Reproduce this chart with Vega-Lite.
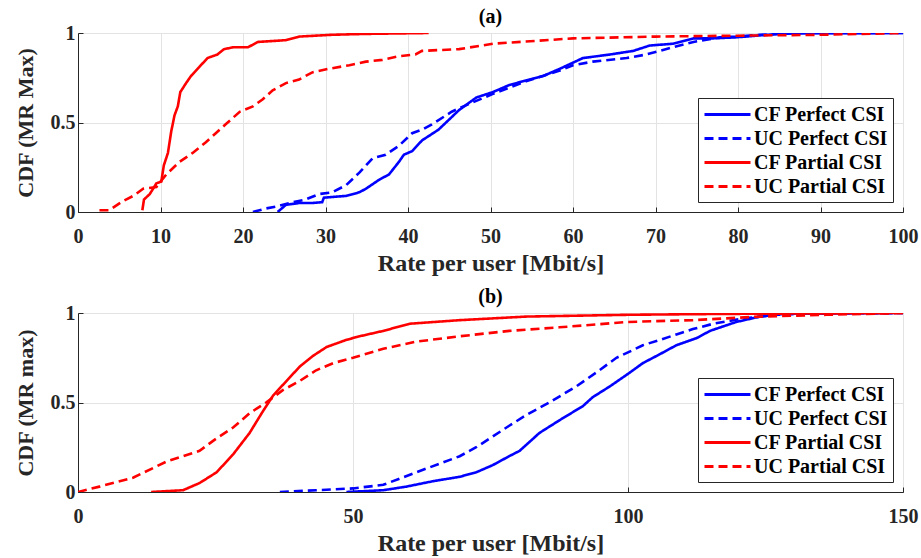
{
  "$schema": "https://vega.github.io/schema/vega-lite/v6.json",
  "padding": {"left": 13, "top": 6, "right": 0, "bottom": 2},
  "background": "white",
  "config": {
    "font": "Times New Roman, Liberation Serif, serif",
    "view": {"stroke": "#262626", "strokeWidth": 1},
    "axis": {
      "labelFont": "Times New Roman, Liberation Serif, serif", "labelFontWeight": "bold", "labelFontSize": 20, "labelColor": "#262626",
      "titleFont": "Times New Roman, Liberation Serif, serif", "titleFontWeight": "bold", "titleFontSize": 22, "titleColor": "#262626",
      "gridColor": "#e3e3e3", "gridWidth": 1, "domainColor": "#262626", "tickColor": "#262626",
      "tickSize": -5
    },
    "axisX": {"labelPadding": 19, "titlePadding": 5, "titleFontSize": 24, "labelFlush": false},
    "axisY": {"labelPadding": 8, "titlePadding": 13},
    "title": {"font": "Times New Roman, Liberation Serif, serif", "fontWeight": "bold", "fontSize": 20, "color": "#000000", "offset": -4},
    "legend": {
      "labelFont": "Times New Roman, Liberation Serif, serif", "labelFontWeight": "bold", "labelFontSize": 20, "labelColor": "#000000",
      "symbolType": "M-1,0H3.6", "symbolSize": 400, "symbolStrokeWidth": 3, "rowPadding": 2,
      "fillColor": "white", "strokeColor": "#262626", "padding": 5, "labelOffset": 28
    }
  },
  "datasets": {
    "a": [
      {"s": "CF Perfect CSI", "x": 24.2, "y": 0.0},
      {"s": "CF Perfect CSI", "x": 25.2, "y": 0.04},
      {"s": "CF Perfect CSI", "x": 26.8, "y": 0.05},
      {"s": "CF Perfect CSI", "x": 28.4, "y": 0.05},
      {"s": "CF Perfect CSI", "x": 29.6, "y": 0.055},
      {"s": "CF Perfect CSI", "x": 29.8, "y": 0.08},
      {"s": "CF Perfect CSI", "x": 32.5, "y": 0.09},
      {"s": "CF Perfect CSI", "x": 34.1, "y": 0.11},
      {"s": "CF Perfect CSI", "x": 34.9, "y": 0.13},
      {"s": "CF Perfect CSI", "x": 36.5, "y": 0.18},
      {"s": "CF Perfect CSI", "x": 37.7, "y": 0.21},
      {"s": "CF Perfect CSI", "x": 38.9, "y": 0.28},
      {"s": "CF Perfect CSI", "x": 39.5, "y": 0.32},
      {"s": "CF Perfect CSI", "x": 40.5, "y": 0.34},
      {"s": "CF Perfect CSI", "x": 41.7, "y": 0.40},
      {"s": "CF Perfect CSI", "x": 43.7, "y": 0.46},
      {"s": "CF Perfect CSI", "x": 46.2, "y": 0.57},
      {"s": "CF Perfect CSI", "x": 48.3, "y": 0.64},
      {"s": "CF Perfect CSI", "x": 50.3, "y": 0.67},
      {"s": "CF Perfect CSI", "x": 52.3, "y": 0.71},
      {"s": "CF Perfect CSI", "x": 56.4, "y": 0.76},
      {"s": "CF Perfect CSI", "x": 58.4, "y": 0.80},
      {"s": "CF Perfect CSI", "x": 61.2, "y": 0.86},
      {"s": "CF Perfect CSI", "x": 64.5, "y": 0.88},
      {"s": "CF Perfect CSI", "x": 67.3, "y": 0.90},
      {"s": "CF Perfect CSI", "x": 69.3, "y": 0.93},
      {"s": "CF Perfect CSI", "x": 72.1, "y": 0.94},
      {"s": "CF Perfect CSI", "x": 74.6, "y": 0.97},
      {"s": "CF Perfect CSI", "x": 77.0, "y": 0.97},
      {"s": "CF Perfect CSI", "x": 79.8, "y": 0.976},
      {"s": "CF Perfect CSI", "x": 84.7, "y": 0.994},
      {"s": "CF Perfect CSI", "x": 86.7, "y": 1.0},
      {"s": "CF Perfect CSI", "x": 100, "y": 1.0},
      {"s": "UC Perfect CSI", "x": 21.2, "y": 0.0},
      {"s": "UC Perfect CSI", "x": 22.8, "y": 0.02},
      {"s": "UC Perfect CSI", "x": 24.0, "y": 0.03},
      {"s": "UC Perfect CSI", "x": 25.6, "y": 0.05},
      {"s": "UC Perfect CSI", "x": 27.6, "y": 0.07},
      {"s": "UC Perfect CSI", "x": 29.2, "y": 0.10},
      {"s": "UC Perfect CSI", "x": 30.8, "y": 0.11},
      {"s": "UC Perfect CSI", "x": 32.5, "y": 0.15},
      {"s": "UC Perfect CSI", "x": 34.1, "y": 0.22},
      {"s": "UC Perfect CSI", "x": 35.7, "y": 0.30},
      {"s": "UC Perfect CSI", "x": 37.3, "y": 0.32},
      {"s": "UC Perfect CSI", "x": 38.9, "y": 0.37},
      {"s": "UC Perfect CSI", "x": 40.5, "y": 0.44},
      {"s": "UC Perfect CSI", "x": 41.7, "y": 0.46},
      {"s": "UC Perfect CSI", "x": 42.9, "y": 0.49},
      {"s": "UC Perfect CSI", "x": 45.3, "y": 0.56},
      {"s": "UC Perfect CSI", "x": 46.2, "y": 0.58},
      {"s": "UC Perfect CSI", "x": 50.3, "y": 0.66},
      {"s": "UC Perfect CSI", "x": 54.3, "y": 0.73},
      {"s": "UC Perfect CSI", "x": 58.4, "y": 0.79},
      {"s": "UC Perfect CSI", "x": 60.0, "y": 0.82},
      {"s": "UC Perfect CSI", "x": 62.4, "y": 0.84},
      {"s": "UC Perfect CSI", "x": 66.5, "y": 0.86},
      {"s": "UC Perfect CSI", "x": 68.9, "y": 0.88},
      {"s": "UC Perfect CSI", "x": 72.1, "y": 0.92},
      {"s": "UC Perfect CSI", "x": 74.6, "y": 0.95},
      {"s": "UC Perfect CSI", "x": 77.8, "y": 0.976},
      {"s": "UC Perfect CSI", "x": 80.0, "y": 0.98},
      {"s": "UC Perfect CSI", "x": 82.6, "y": 0.99},
      {"s": "UC Perfect CSI", "x": 86.7, "y": 0.998},
      {"s": "UC Perfect CSI", "x": 100, "y": 1.0},
      {"s": "CF Partial CSI", "x": 7.8, "y": 0.01},
      {"s": "CF Partial CSI", "x": 8.0, "y": 0.07},
      {"s": "CF Partial CSI", "x": 8.7, "y": 0.10},
      {"s": "CF Partial CSI", "x": 9.5, "y": 0.16},
      {"s": "CF Partial CSI", "x": 10.1, "y": 0.17},
      {"s": "CF Partial CSI", "x": 10.4, "y": 0.26},
      {"s": "CF Partial CSI", "x": 10.9, "y": 0.33},
      {"s": "CF Partial CSI", "x": 11.3, "y": 0.45},
      {"s": "CF Partial CSI", "x": 11.7, "y": 0.54},
      {"s": "CF Partial CSI", "x": 12.1, "y": 0.59},
      {"s": "CF Partial CSI", "x": 12.4, "y": 0.67},
      {"s": "CF Partial CSI", "x": 13.1, "y": 0.72},
      {"s": "CF Partial CSI", "x": 13.7, "y": 0.76},
      {"s": "CF Partial CSI", "x": 14.7, "y": 0.81},
      {"s": "CF Partial CSI", "x": 15.7, "y": 0.86},
      {"s": "CF Partial CSI", "x": 16.9, "y": 0.88},
      {"s": "CF Partial CSI", "x": 17.7, "y": 0.91},
      {"s": "CF Partial CSI", "x": 18.8, "y": 0.92},
      {"s": "CF Partial CSI", "x": 20.6, "y": 0.92},
      {"s": "CF Partial CSI", "x": 21.8, "y": 0.95},
      {"s": "CF Partial CSI", "x": 25.2, "y": 0.96},
      {"s": "CF Partial CSI", "x": 26.8, "y": 0.98},
      {"s": "CF Partial CSI", "x": 30.8, "y": 0.99},
      {"s": "CF Partial CSI", "x": 34.9, "y": 0.995},
      {"s": "CF Partial CSI", "x": 42.5, "y": 1.0},
      {"s": "UC Partial CSI", "x": 2.6, "y": 0.01},
      {"s": "UC Partial CSI", "x": 3.8, "y": 0.01},
      {"s": "UC Partial CSI", "x": 5.4, "y": 0.06},
      {"s": "UC Partial CSI", "x": 6.7, "y": 0.09},
      {"s": "UC Partial CSI", "x": 7.9, "y": 0.13},
      {"s": "UC Partial CSI", "x": 9.5, "y": 0.14},
      {"s": "UC Partial CSI", "x": 10.7, "y": 0.21},
      {"s": "UC Partial CSI", "x": 12.3, "y": 0.28},
      {"s": "UC Partial CSI", "x": 13.9, "y": 0.33},
      {"s": "UC Partial CSI", "x": 15.5, "y": 0.39},
      {"s": "UC Partial CSI", "x": 16.7, "y": 0.44},
      {"s": "UC Partial CSI", "x": 17.9, "y": 0.49},
      {"s": "UC Partial CSI", "x": 19.6, "y": 0.56},
      {"s": "UC Partial CSI", "x": 21.2, "y": 0.59},
      {"s": "UC Partial CSI", "x": 22.4, "y": 0.63},
      {"s": "UC Partial CSI", "x": 23.6, "y": 0.68},
      {"s": "UC Partial CSI", "x": 25.2, "y": 0.72},
      {"s": "UC Partial CSI", "x": 26.8, "y": 0.74},
      {"s": "UC Partial CSI", "x": 28.4, "y": 0.78},
      {"s": "UC Partial CSI", "x": 30.4, "y": 0.80},
      {"s": "UC Partial CSI", "x": 32.9, "y": 0.82},
      {"s": "UC Partial CSI", "x": 34.9, "y": 0.84},
      {"s": "UC Partial CSI", "x": 36.9, "y": 0.85},
      {"s": "UC Partial CSI", "x": 38.9, "y": 0.87},
      {"s": "UC Partial CSI", "x": 40.9, "y": 0.88},
      {"s": "UC Partial CSI", "x": 41.7, "y": 0.90},
      {"s": "UC Partial CSI", "x": 46.2, "y": 0.91},
      {"s": "UC Partial CSI", "x": 50.3, "y": 0.94},
      {"s": "UC Partial CSI", "x": 60.0, "y": 0.97},
      {"s": "UC Partial CSI", "x": 70.0, "y": 0.98},
      {"s": "UC Partial CSI", "x": 80.0, "y": 0.985},
      {"s": "UC Partial CSI", "x": 90.0, "y": 0.99},
      {"s": "UC Partial CSI", "x": 100, "y": 1.0}
    ],
    "b": [
      {"s": "CF Perfect CSI", "x": 48.8, "y": 0.0},
      {"s": "CF Perfect CSI", "x": 55.5, "y": 0.01},
      {"s": "CF Perfect CSI", "x": 59.7, "y": 0.03},
      {"s": "CF Perfect CSI", "x": 64.5, "y": 0.06},
      {"s": "CF Perfect CSI", "x": 69.4, "y": 0.085},
      {"s": "CF Perfect CSI", "x": 72.4, "y": 0.11},
      {"s": "CF Perfect CSI", "x": 75.4, "y": 0.15},
      {"s": "CF Perfect CSI", "x": 78.4, "y": 0.20},
      {"s": "CF Perfect CSI", "x": 80.3, "y": 0.23},
      {"s": "CF Perfect CSI", "x": 83.9, "y": 0.33},
      {"s": "CF Perfect CSI", "x": 87.5, "y": 0.40},
      {"s": "CF Perfect CSI", "x": 91.8, "y": 0.48},
      {"s": "CF Perfect CSI", "x": 93.6, "y": 0.53},
      {"s": "CF Perfect CSI", "x": 96.7, "y": 0.59},
      {"s": "CF Perfect CSI", "x": 100.0, "y": 0.66},
      {"s": "CF Perfect CSI", "x": 102.7, "y": 0.72},
      {"s": "CF Perfect CSI", "x": 105.8, "y": 0.77},
      {"s": "CF Perfect CSI", "x": 108.8, "y": 0.82},
      {"s": "CF Perfect CSI", "x": 112.5, "y": 0.86},
      {"s": "CF Perfect CSI", "x": 114.9, "y": 0.90},
      {"s": "CF Perfect CSI", "x": 119.7, "y": 0.95},
      {"s": "CF Perfect CSI", "x": 124.0, "y": 0.98},
      {"s": "CF Perfect CSI", "x": 128.3, "y": 0.995},
      {"s": "CF Perfect CSI", "x": 150, "y": 1.0},
      {"s": "UC Perfect CSI", "x": 36.7, "y": 0.0},
      {"s": "UC Perfect CSI", "x": 43.3, "y": 0.01},
      {"s": "UC Perfect CSI", "x": 50.0, "y": 0.02},
      {"s": "UC Perfect CSI", "x": 55.5, "y": 0.04},
      {"s": "UC Perfect CSI", "x": 61.5, "y": 0.11},
      {"s": "UC Perfect CSI", "x": 69.4, "y": 0.20},
      {"s": "UC Perfect CSI", "x": 72.4, "y": 0.25},
      {"s": "UC Perfect CSI", "x": 75.4, "y": 0.31},
      {"s": "UC Perfect CSI", "x": 78.4, "y": 0.37},
      {"s": "UC Perfect CSI", "x": 81.5, "y": 0.43},
      {"s": "UC Perfect CSI", "x": 85.7, "y": 0.50},
      {"s": "UC Perfect CSI", "x": 90.6, "y": 0.59},
      {"s": "UC Perfect CSI", "x": 94.8, "y": 0.68},
      {"s": "UC Perfect CSI", "x": 97.9, "y": 0.75},
      {"s": "UC Perfect CSI", "x": 100.0, "y": 0.78},
      {"s": "UC Perfect CSI", "x": 102.7, "y": 0.82},
      {"s": "UC Perfect CSI", "x": 105.8, "y": 0.85},
      {"s": "UC Perfect CSI", "x": 108.8, "y": 0.88},
      {"s": "UC Perfect CSI", "x": 111.8, "y": 0.91},
      {"s": "UC Perfect CSI", "x": 115.5, "y": 0.94},
      {"s": "UC Perfect CSI", "x": 121.0, "y": 0.97},
      {"s": "UC Perfect CSI", "x": 127.0, "y": 0.99},
      {"s": "UC Perfect CSI", "x": 133.1, "y": 0.998},
      {"s": "UC Perfect CSI", "x": 150, "y": 1.0},
      {"s": "CF Partial CSI", "x": 13.3, "y": 0.0},
      {"s": "CF Partial CSI", "x": 19.1, "y": 0.01},
      {"s": "CF Partial CSI", "x": 22.1, "y": 0.05},
      {"s": "CF Partial CSI", "x": 25.2, "y": 0.11},
      {"s": "CF Partial CSI", "x": 28.2, "y": 0.21},
      {"s": "CF Partial CSI", "x": 31.2, "y": 0.33},
      {"s": "CF Partial CSI", "x": 33.6, "y": 0.45},
      {"s": "CF Partial CSI", "x": 35.5, "y": 0.54},
      {"s": "CF Partial CSI", "x": 37.9, "y": 0.62},
      {"s": "CF Partial CSI", "x": 40.3, "y": 0.70},
      {"s": "CF Partial CSI", "x": 42.7, "y": 0.76},
      {"s": "CF Partial CSI", "x": 45.2, "y": 0.81},
      {"s": "CF Partial CSI", "x": 48.8, "y": 0.85},
      {"s": "CF Partial CSI", "x": 51.2, "y": 0.87},
      {"s": "CF Partial CSI", "x": 55.5, "y": 0.90},
      {"s": "CF Partial CSI", "x": 60.3, "y": 0.94},
      {"s": "CF Partial CSI", "x": 69.4, "y": 0.96},
      {"s": "CF Partial CSI", "x": 81.5, "y": 0.98},
      {"s": "CF Partial CSI", "x": 100.0, "y": 0.99},
      {"s": "CF Partial CSI", "x": 117.9, "y": 0.995},
      {"s": "CF Partial CSI", "x": 150, "y": 1.0},
      {"s": "UC Partial CSI", "x": 0.0, "y": 0.0},
      {"s": "UC Partial CSI", "x": 3.9, "y": 0.03},
      {"s": "UC Partial CSI", "x": 10.0, "y": 0.08},
      {"s": "UC Partial CSI", "x": 16.1, "y": 0.17},
      {"s": "UC Partial CSI", "x": 22.1, "y": 0.23},
      {"s": "UC Partial CSI", "x": 25.2, "y": 0.30},
      {"s": "UC Partial CSI", "x": 28.2, "y": 0.36},
      {"s": "UC Partial CSI", "x": 31.2, "y": 0.44},
      {"s": "UC Partial CSI", "x": 34.2, "y": 0.50},
      {"s": "UC Partial CSI", "x": 37.3, "y": 0.57},
      {"s": "UC Partial CSI", "x": 40.3, "y": 0.62},
      {"s": "UC Partial CSI", "x": 43.3, "y": 0.68},
      {"s": "UC Partial CSI", "x": 46.4, "y": 0.72},
      {"s": "UC Partial CSI", "x": 50.0, "y": 0.75},
      {"s": "UC Partial CSI", "x": 55.5, "y": 0.80},
      {"s": "UC Partial CSI", "x": 61.5, "y": 0.84},
      {"s": "UC Partial CSI", "x": 69.4, "y": 0.87},
      {"s": "UC Partial CSI", "x": 78.4, "y": 0.90},
      {"s": "UC Partial CSI", "x": 87.5, "y": 0.92},
      {"s": "UC Partial CSI", "x": 100.0, "y": 0.95},
      {"s": "UC Partial CSI", "x": 111.8, "y": 0.96},
      {"s": "UC Partial CSI", "x": 124.0, "y": 0.98},
      {"s": "UC Partial CSI", "x": 136.1, "y": 0.99},
      {"s": "UC Partial CSI", "x": 150, "y": 1.0}
    ]
  },
  "vconcat": [
    {
      "title": "(a)",
      "width": 825, "height": 179,
      "data": {"name": "a"},
      "mark": {"type": "line", "strokeWidth": 2.6, "clip": true},
      "encoding": {
        "x": {"field": "x", "type": "quantitative", "scale": {"domain": [0, 100], "nice": false},
              "axis": {"values": [0,10,20,30,40,50,60,70,80,90,100], "title": "Rate per user [Mbit/s]"}},
        "y": {"field": "y", "type": "quantitative", "scale": {"domain": [0, 1], "nice": false},
              "axis": {"values": [0, 0.5, 1], "format": "~g", "title": "CDF (MR Max)"}},
        "color": {"field": "s", "type": "nominal",
                  "scale": {"domain": ["CF Perfect CSI", "UC Perfect CSI", "CF Partial CSI", "UC Partial CSI"], "range": ["#0000ff", "#0000ff", "#ff0000", "#ff0000"]},
                  "legend": {"title": null, "orient": "bottom-right", "offset": 10}},
        "strokeDash": {"field": "s", "type": "nominal",
                  "scale": {"domain": ["CF Perfect CSI", "UC Perfect CSI", "CF Partial CSI", "UC Partial CSI"], "range": [[1, 0], [9, 5], [1, 0], [9, 5]]},
                  "legend": {"title": null, "orient": "bottom-right", "offset": 10}},
        "order": {"field": "x", "type": "quantitative"}
      }
    },
    {
      "title": "(b)",
      "width": 825, "height": 179,
      "data": {"name": "b"},
      "mark": {"type": "line", "strokeWidth": 2.6, "clip": true},
      "encoding": {
        "x": {"field": "x", "type": "quantitative", "scale": {"domain": [0, 150], "nice": false},
              "axis": {"values": [0, 50, 100, 150], "title": "Rate per user [Mbit/s]"}},
        "y": {"field": "y", "type": "quantitative", "scale": {"domain": [0, 1], "nice": false},
              "axis": {"values": [0, 0.5, 1], "format": "~g", "title": "CDF (MR max)"}},
        "color": {"field": "s", "type": "nominal",
                  "scale": {"domain": ["CF Perfect CSI", "UC Perfect CSI", "CF Partial CSI", "UC Partial CSI"], "range": ["#0000ff", "#0000ff", "#ff0000", "#ff0000"]},
                  "legend": {"title": null, "orient": "bottom-right", "offset": 10}},
        "strokeDash": {"field": "s", "type": "nominal",
                  "scale": {"domain": ["CF Perfect CSI", "UC Perfect CSI", "CF Partial CSI", "UC Partial CSI"], "range": [[1, 0], [9, 5], [1, 0], [9, 5]]},
                  "legend": {"title": null, "orient": "bottom-right", "offset": 10}},
        "order": {"field": "x", "type": "quantitative"}
      }
    }
  ],
  "resolve": {"scale": {"x": "independent", "y": "independent", "color": "independent", "strokeDash": "independent"}},
  "spacing": 10
}
